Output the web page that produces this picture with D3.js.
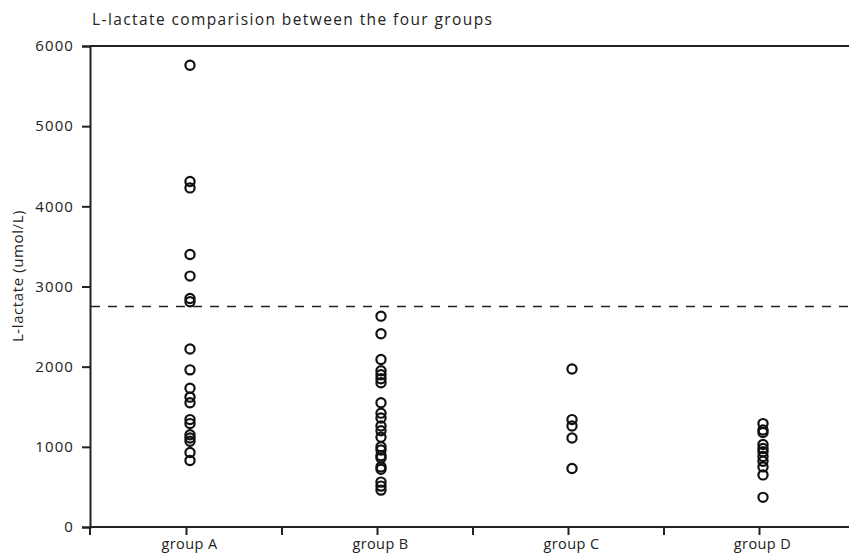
<!DOCTYPE html>
<html>
<head>
<meta charset="utf-8">
<script src="https://cdn.jsdelivr.net/npm/d3@7"></script>
<style>
  html, body { margin: 0; padding: 0; background: #fff; }
  svg text { font-family: "Open Sans", "Noto Sans", sans-serif; fill: #222; }
</style>
</head>
<body>
<svg id="chart" width="849" height="554"></svg>
<script>
// L-lactate measurements (umol/L) per group
const groups = ["group A", "group B", "group C", "group D"];
const groupA = [5760, 4310, 4230, 3400, 3130, 2850, 2810, 2220, 1960, 1730, 1620, 1550, 1340, 1290, 1150, 1110, 1070, 930, 830];
const groupB = [2630, 2410, 2090, 1950, 1900, 1850, 1800, 1550, 1420, 1360, 1260, 1200, 1120, 1000, 960, 890, 860, 750, 720, 560, 510, 460];
const groupC = [1970, 1340, 1260, 1110, 730];
const groupD = [1290, 1210, 1180, 1030, 980, 940, 880, 820, 750, 650, 370];
const cutoff = 2750;
const yTicks = [0, 1000, 2000, 3000, 4000, 5000, 6000];
const title = "L-lactate comparision between the four groups";
const yLabel = "L-lactate (umol/L)";

const seriesByGroup = [groupA, groupB, groupC, groupD];
const points = [];
seriesByGroup.forEach((vals, i) => vals.forEach(v => points.push({ group: groups[i], value: v })));

const svg = d3.select("#chart");
const W = 849;
const plotLeft = 90, plotTop = 46, plotBottom = 527;

const x = d3.scaleBand().domain(groups).range([plotLeft + 1, plotLeft + 1 + 4 * 191]).padding(0);
const y = d3.scaleLinear().domain([0, 6000]).range([plotBottom, plotTop]);

// frame top edge
svg.append("line")
  .attr("x1", plotLeft).attr("x2", W).attr("y1", y(6000)).attr("y2", y(6000))
  .attr("stroke", "#222").attr("stroke-width", 2);

// y axis
const yAxis = svg.append("g")
  .attr("transform", `translate(${plotLeft},0)`)
  .call(d3.axisLeft(y).tickValues(yTicks).tickSize(8).tickPadding(8).tickFormat(d3.format("d")));
yAxis.select(".domain").attr("stroke", "#222").attr("stroke-width", 2);
yAxis.selectAll(".tick line").attr("stroke", "#222").attr("stroke-width", 2);
yAxis.selectAll(".tick text").style("font-size", "15px").style("letter-spacing", "1.1px");

// x axis: ticks at group centres and group boundaries
const xAxisG = svg.append("g").attr("transform", `translate(0,${plotBottom})`);
xAxisG.append("line")
  .attr("x1", plotLeft).attr("x2", W).attr("y1", 0).attr("y2", 0)
  .attr("stroke", "#222").attr("stroke-width", 2);
const boundaries = [plotLeft].concat(groups.slice(1).map(g => x(g)), [x(groups[3]) + x.bandwidth()]);
xAxisG.selectAll("line.b").data(boundaries).join("line").attr("class", "b")
  .attr("x1", d => d).attr("x2", d => d).attr("y1", 0).attr("y2", 8)
  .attr("stroke", "#222").attr("stroke-width", 2);
xAxisG.selectAll("line.c").data(groups).join("line").attr("class", "c")
  .attr("x1", d => x(d) + x.bandwidth() / 2).attr("x2", d => x(d) + x.bandwidth() / 2)
  .attr("y1", 0).attr("y2", 8)
  .attr("stroke", "#222").attr("stroke-width", 2);
xAxisG.selectAll("text").data(groups).join("text")
  .attr("x", d => x(d) + x.bandwidth() / 2 + 3).attr("y", 22)
  .attr("text-anchor", "middle").style("font-size", "14.5px").style("letter-spacing", "0.4px")
  .text(d => d);

// cutoff line
svg.append("line")
  .attr("x1", plotLeft + 1).attr("x2", W).attr("y1", y(cutoff)).attr("y2", y(cutoff))
  .attr("stroke", "#222").attr("stroke-width", 1.6).attr("stroke-dasharray", "9,8");

// data points
svg.append("g").selectAll("circle").data(points).join("circle")
  .attr("cx", d => x(d.group) + x.bandwidth() / 2 + 3.5)
  .attr("cy", d => y(d.value))
  .attr("r", 4.6)
  .attr("fill", "none").attr("stroke", "#111").attr("stroke-width", 2.2);

// title
svg.append("text").attr("x", 92).attr("y", 25)
  .style("font-size", "15.5px").style("letter-spacing", "1.4px").text(title);

// y label
svg.append("text")
  .attr("transform", `translate(23,276) rotate(-90)`)
  .attr("text-anchor", "middle").style("font-size", "15px").style("letter-spacing", "0.6px")
  .text(yLabel);
</script>
</body>
</html>
